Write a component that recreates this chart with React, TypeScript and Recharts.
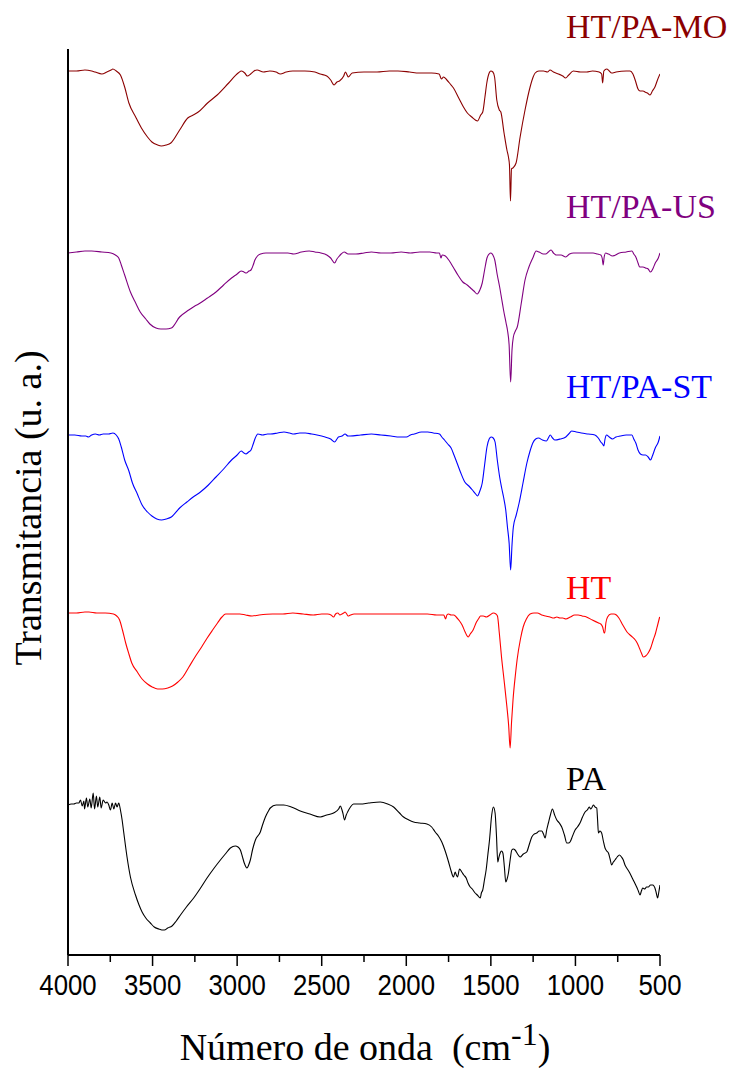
import React from "react";
import { Line, LineChart, XAxis, YAxis } from "recharts";

// FTIR spectra, stacked. [wavenumber cm-1, transmittance a.u. with offset]
type Point = [number, number];

const moSpectrum: Point[] = [
  [4000, 884], [3950, 884], [3900, 885], [3860, 884], [3840, 883], [3800, 881], [3770, 883], [3745, 885],
  [3735, 886], [3715, 884], [3690, 880], [3665, 868], [3640, 852], [3600, 838], [3566, 827], [3530, 818],
  [3504, 813], [3470, 810], [3449, 809], [3420, 810], [3392, 812], [3340, 825], [3292, 837], [3260, 840],
  [3230, 843], [3175, 852], [3118, 860], [3050, 872], [2994, 882], [2974, 884], [2955, 882], [2940, 879],
  [2920, 881], [2900, 884], [2882, 885], [2845, 883], [2807, 884], [2770, 883], [2745, 881], [2710, 883],
  [2671, 884], [2600, 884], [2540, 883], [2509, 881], [2470, 879], [2447, 875], [2427, 870], [2410, 873],
  [2395, 874], [2370, 879], [2360, 883], [2350, 880], [2343, 878], [2320, 882], [2250, 883], [2173, 883],
  [2100, 884], [2049, 884], [1980, 883], [1925, 882], [1850, 882], [1806, 881], [1792, 876], [1780, 878],
  [1760, 875], [1740, 871], [1721, 867], [1690, 857], [1662, 848], [1639, 842], [1613, 838], [1579, 834],
  [1560, 840], [1548, 843], [1535, 858], [1524, 872], [1510, 882], [1500, 884], [1488, 883], [1478, 878],
  [1465, 855], [1450, 845], [1441, 843], [1422, 822], [1405, 805], [1396, 798], [1390, 790], [1384, 754],
  [1378, 786], [1370, 787], [1351, 792], [1327, 818], [1298, 845], [1268, 868], [1250, 878], [1238, 882],
  [1216, 884], [1189, 884], [1165, 883], [1150, 885], [1130, 883], [1100, 881], [1075, 879], [1058, 877],
  [1040, 880], [1012, 884], [970, 883], [933, 883], [900, 884], [860, 883], [845, 881], [839, 872],
  [832, 884], [815, 886], [800, 884], [786, 882], [760, 883], [700, 884], [677, 884], [660, 881],
  [645, 874], [630, 866], [618, 864], [600, 864], [589, 863], [575, 862], [559, 860], [545, 864],
  [530, 868], [515, 875], [500, 881],
];

const usSpectrum: Point[] = [
  [4000, 702], [3950, 703], [3900, 704], [3860, 704], [3800, 703], [3746, 702], [3720, 700], [3700, 697],
  [3685, 690], [3665, 680], [3631, 663], [3600, 652], [3573, 643], [3540, 636], [3516, 631], [3480, 627],
  [3451, 626], [3420, 626], [3389, 627], [3340, 638], [3286, 645], [3250, 649], [3228, 651], [3175, 657],
  [3125, 663], [3080, 670], [3033, 677], [3000, 681], [2976, 684], [2960, 683], [2946, 682], [2930, 684],
  [2918, 685], [2905, 690], [2895, 695], [2880, 699], [2861, 701], [2830, 702], [2803, 702], [2750, 702],
  [2700, 702], [2665, 701], [2620, 703], [2574, 704], [2540, 703], [2505, 702], [2470, 700], [2447, 697],
  [2424, 692], [2410, 696], [2401, 698], [2385, 701], [2367, 703], [2344, 701], [2298, 701], [2250, 702],
  [2206, 703], [2150, 702], [2091, 702], [2030, 703], [1976, 702], [1920, 703], [1861, 703], [1820, 702],
  [1804, 702], [1795, 697], [1788, 700], [1769, 699], [1745, 694], [1723, 688], [1695, 680], [1666, 673],
  [1640, 670], [1620, 667], [1600, 664], [1581, 661], [1565, 665], [1551, 672], [1537, 685], [1523, 697],
  [1510, 701], [1500, 702], [1488, 700], [1477, 695], [1462, 680], [1448, 668], [1436, 656], [1425, 645],
  [1410, 632], [1402, 625], [1392, 610], [1383, 573], [1375, 605], [1367, 618], [1355, 624], [1344, 628],
  [1320, 652], [1298, 675], [1275, 688], [1252, 697], [1232, 704], [1215, 703], [1190, 701], [1176, 701],
  [1160, 703], [1144, 705], [1130, 702], [1114, 700], [1085, 700], [1057, 698], [1035, 701], [1011, 702],
  [950, 702], [896, 702], [870, 701], [850, 700], [842, 697], [836, 690], [830, 698], [822, 702],
  [805, 701], [781, 699], [740, 702], [700, 703], [666, 704], [655, 701], [643, 698], [630, 692],
  [620, 688], [600, 688], [586, 687], [570, 686], [556, 683], [540, 687], [528, 692], [510, 697],
  [500, 702],
];

const stSpectrum: Point[] = [
  [4000, 520], [3960, 520], [3918, 519], [3895, 519], [3879, 518], [3860, 520], [3838, 521], [3815, 520],
  [3792, 521], [3760, 521], [3734, 522], [3715, 520], [3700, 516], [3685, 508], [3665, 495], [3640, 484],
  [3619, 472], [3590, 461], [3562, 450], [3530, 443], [3504, 439], [3475, 436], [3447, 435], [3420, 436],
  [3389, 438], [3340, 447], [3297, 453], [3260, 458], [3217, 463], [3170, 470], [3125, 478], [3080, 486],
  [3033, 495], [3000, 500], [2976, 504], [2960, 502], [2948, 501], [2932, 503], [2918, 505], [2905, 511],
  [2895, 516], [2877, 521], [2850, 520], [2820, 521], [2803, 521], [2760, 522], [2723, 523], [2690, 522],
  [2665, 521], [2630, 522], [2597, 522], [2560, 521], [2528, 520], [2480, 518], [2447, 516], [2424, 513],
  [2410, 516], [2401, 518], [2380, 519], [2362, 521], [2345, 519], [2332, 519], [2270, 520], [2206, 521],
  [2150, 520], [2091, 519], [2040, 518], [1999, 518], [1975, 520], [1953, 521], [1910, 523], [1873, 523],
  [1840, 522], [1804, 521], [1790, 518], [1774, 515], [1755, 511], [1735, 507], [1718, 500], [1700, 492],
  [1680, 483], [1654, 473], [1630, 469], [1609, 465], [1590, 461], [1579, 459], [1565, 464], [1551, 472],
  [1537, 490], [1523, 508], [1510, 516], [1498, 518], [1486, 517], [1475, 513], [1462, 495], [1448, 478],
  [1436, 467], [1425, 458], [1412, 445], [1402, 428], [1392, 412], [1383, 385], [1375, 410], [1367, 428],
  [1350, 440], [1333, 452], [1310, 472], [1287, 492], [1270, 503], [1252, 512], [1235, 516], [1218, 517],
  [1195, 515], [1172, 514], [1160, 517], [1149, 520], [1135, 517], [1121, 515], [1090, 516], [1057, 518],
  [1040, 521], [1022, 524], [995, 523], [965, 522], [925, 521], [885, 520], [865, 517], [850, 513],
  [840, 511], [832, 509], [825, 516], [816, 520], [800, 518], [781, 516], [760, 518], [735, 519],
  [700, 520], [666, 520], [655, 516], [643, 512], [630, 505], [616, 501], [600, 500], [586, 500],
  [570, 498], [556, 495], [545, 499], [528, 507], [510, 513], [500, 519],
];

const htSpectrum: Point[] = [
  [4000, 342], [3950, 342], [3900, 343], [3876, 343], [3830, 342], [3780, 342], [3731, 341], [3712, 339],
  [3695, 335], [3678, 325], [3659, 312], [3640, 301], [3623, 292], [3590, 283], [3562, 276], [3530, 271],
  [3502, 268], [3470, 266], [3442, 266], [3410, 267], [3382, 269], [3350, 273], [3321, 278], [3285, 288],
  [3249, 298], [3210, 308], [3177, 317], [3145, 325], [3116, 332], [3090, 338], [3068, 341], [3030, 341],
  [2984, 341], [2950, 340], [2912, 339], [2870, 340], [2791, 341], [2730, 341], [2671, 342], [2610, 341],
  [2550, 340], [2500, 341], [2466, 341], [2445, 340], [2430, 338], [2418, 341], [2405, 342], [2392, 340],
  [2381, 341], [2370, 342], [2362, 343], [2352, 341], [2345, 339], [2330, 340], [2309, 341], [2200, 341],
  [2116, 341], [2000, 341], [1875, 341], [1820, 340], [1779, 340], [1767, 336], [1760, 340], [1750, 341],
  [1735, 340], [1719, 340], [1700, 337], [1685, 334], [1670, 330], [1652, 323], [1640, 319], [1634, 318],
  [1622, 321], [1605, 325], [1585, 333], [1570, 337], [1562, 339], [1545, 339], [1526, 338], [1505, 340],
  [1485, 342], [1470, 341], [1461, 339], [1450, 322], [1437, 298], [1420, 272], [1405, 248], [1395, 230],
  [1386, 207], [1378, 232], [1369, 255], [1355, 280], [1345, 295], [1325, 316], [1309, 328], [1290, 336],
  [1268, 341], [1245, 342], [1225, 342], [1200, 340], [1176, 339], [1150, 338], [1128, 337], [1110, 338],
  [1092, 337], [1075, 337], [1056, 336], [1030, 338], [1005, 340], [984, 340], [960, 339], [935, 338],
  [900, 335], [863, 332], [850, 331], [839, 328], [830, 322], [827, 322], [820, 332], [810, 338],
  [790, 341], [772, 341], [758, 340], [743, 337], [720, 330], [695, 323], [670, 319], [646, 315],
  [635, 312], [622, 307], [610, 302], [598, 298], [585, 299], [570, 302], [555, 307], [540, 315],
  [526, 322], [514, 330], [502, 338],
];

const paSpectrum: Point[] = [
  [4000, 150], [3980, 151], [3966, 151], [3950, 152], [3936, 152], [3926, 155], [3916, 149], [3906, 154],
  [3902, 146], [3891, 157], [3883, 148], [3871, 156], [3863, 147], [3851, 162], [3843, 146], [3832, 159],
  [3824, 148], [3812, 158], [3804, 147], [3792, 155], [3778, 152], [3769, 153], [3759, 150], [3749, 145],
  [3739, 152], [3729, 146], [3719, 152], [3710, 148], [3700, 152], [3690, 145], [3680, 135], [3670, 122],
  [3651, 98], [3631, 78], [3601, 60], [3580, 50], [3562, 43], [3540, 37], [3513, 32], [3490, 28],
  [3463, 26], [3445, 25], [3430, 25], [3410, 27], [3385, 29], [3360, 34], [3335, 40], [3300, 48],
  [3257, 57], [3220, 66], [3178, 77], [3140, 86], [3099, 95], [3070, 101], [3040, 107], [3011, 109],
  [2995, 108], [2981, 105], [2970, 99], [2958, 92], [2942, 87], [2932, 90], [2922, 95], [2908, 106],
  [2892, 115], [2863, 123], [2850, 130], [2833, 138], [2815, 144], [2804, 147], [2770, 150], [2725, 150],
  [2680, 148], [2627, 144], [2570, 141], [2509, 138], [2470, 140], [2430, 142], [2400, 146], [2390, 149],
  [2380, 145], [2375, 142], [2365, 135], [2355, 140], [2347, 143], [2330, 148], [2312, 151], [2270, 151],
  [2223, 152], [2154, 153], [2110, 151], [2075, 148], [2040, 142], [2016, 138], [1985, 135], [1957, 133],
  [1920, 132], [1878, 131], [1850, 128], [1829, 123], [1810, 119], [1790, 113], [1770, 104], [1750, 93],
  [1735, 84], [1721, 78], [1711, 83], [1704, 80], [1697, 78], [1685, 86], [1672, 83], [1660, 80],
  [1646, 77], [1635, 72], [1622, 68], [1610, 66], [1593, 62], [1580, 60], [1563, 57], [1556, 62],
  [1548, 65], [1538, 75], [1528, 85], [1518, 100], [1508, 115], [1495, 140], [1485, 148], [1475, 142],
  [1467, 120], [1459, 93], [1452, 98], [1445, 102], [1437, 104], [1429, 102], [1420, 88], [1412, 73],
  [1404, 76], [1396, 82], [1386, 95], [1376, 105], [1367, 106], [1357, 105], [1342, 101], [1327, 98],
  [1308, 101], [1288, 103], [1272, 111], [1258, 118], [1243, 121], [1229, 122], [1214, 124], [1199, 124],
  [1189, 121], [1179, 117], [1170, 125], [1160, 132], [1148, 140], [1136, 146], [1123, 140], [1110, 135],
  [1095, 132], [1081, 128], [1065, 120], [1051, 112], [1040, 112], [1032, 113], [1017, 119], [1002, 125],
  [988, 128], [973, 132], [958, 138], [943, 143], [930, 145], [918, 148], [910, 146], [904, 147],
  [894, 150], [884, 148], [874, 147], [869, 135], [864, 122], [855, 124], [845, 122], [835, 114],
  [825, 107], [815, 104], [805, 102], [795, 96], [786, 90], [776, 93], [766, 95], [753, 98],
  [740, 100], [728, 98], [717, 95], [707, 90], [697, 87], [682, 83], [667, 78], [652, 73],
  [638, 68], [628, 64], [618, 60], [610, 64], [602, 67], [590, 66], [580, 68], [569, 68],
  [556, 70], [543, 70], [536, 69], [530, 67], [522, 62], [514, 57], [507, 63], [500, 70],
];

const waveTicks = [4000, 3750, 3500, 3250, 3000, 2750, 2500, 2250, 2000, 1750, 1500, 1250, 1000, 750, 500];

const toRows = (pts: Point[]) => pts.map(([wn, t]) => ({ wn, t }));

const serif = "'Liberation Serif', 'Times New Roman', serif";
const sans = "'Liberation Sans', Arial, sans-serif";

function WaveTick(props: any) {
  const { x, y, payload } = props;
  const major = payload.value % 500 === 0;
  return (
    <g>
      <line x1={x} x2={x} y1={y} y2={y + (major ? 11 : 7)} stroke="#000" strokeWidth={1.5} />
      {major && (
        <text
          transform={`translate(${x} ${y + 40}) scale(0.86 1)`}
          textAnchor="middle"
          fontFamily={sans}
          fontSize={30}
          fill="#000"
        >
          {payload.value}
        </text>
      )}
    </g>
  );
}

export default function App() {
  return (
    <div style={{ position: "absolute", left: 0, top: 0, width: 736, height: 1068, background: "#fff" }}>
      <LineChart width={736} height={1068} margin={{ top: 49, right: 76, bottom: 83, left: 67 }}>
        <XAxis
          type="number"
          dataKey="wn"
          domain={[500, 4000]}
          reversed
          allowDataOverflow
          ticks={waveTicks}
          interval={0}
          tickSize={0}
          tickMargin={0}
          tickLine={false}
          tick={(p: any) => <WaveTick {...p} />}
          axisLine={{ stroke: "#000", strokeWidth: 2 }}
          height={30}
        />
        <YAxis
          type="number"
          domain={[0, 906]}
          width={1}
          tick={false}
          tickLine={false}
          axisLine={{ stroke: "#000", strokeWidth: 2 }}
        />
        <Line data={toRows(moSpectrum)} dataKey="t" type="monotoneX" stroke="#8B0000" strokeWidth={1.1} dot={false} isAnimationActive={false} />
        <Line data={toRows(usSpectrum)} dataKey="t" type="monotoneX" stroke="#800080" strokeWidth={1.1} dot={false} isAnimationActive={false} />
        <Line data={toRows(stSpectrum)} dataKey="t" type="monotoneX" stroke="#0000FF" strokeWidth={1.1} dot={false} isAnimationActive={false} />
        <Line data={toRows(htSpectrum)} dataKey="t" type="monotoneX" stroke="#FF0000" strokeWidth={1.1} dot={false} isAnimationActive={false} />
        <Line data={toRows(paSpectrum)} dataKey="t" type="monotoneX" stroke="#000000" strokeWidth={1.1} dot={false} isAnimationActive={false} />
      </LineChart>
      <svg
        width={736}
        height={1068}
        style={{ position: "absolute", left: 0, top: 0, pointerEvents: "none" }}
      >
        <g fontFamily={serif} fontSize={34}>
          <text x={566} y={38} fill="#8B0000">HT/PA-MO</text>
          <text x={566} y={218} fill="#800080">HT/PA-US</text>
          <text x={566} y={398} fill="#0000FF">HT/PA-ST</text>
          <text x={566} y={599} fill="#FF0000">HT</text>
          <text x={566} y={790} fill="#000">PA</text>
        </g>
        <text
          x={41}
          y={508}
          transform="rotate(-90 41 508)"
          textAnchor="middle"
          fontFamily={serif}
          fontSize={38}
          fill="#000"
        >
          Transmitancia (u. a.)
        </text>
        <text x={365} y={1060} textAnchor="middle" fontFamily={serif} fontSize={38} fill="#000">
          Número de onda{"\u00a0\u00a0"}(cm<tspan dy={-15} fontSize={32}>-1</tspan>
          <tspan dy={15}>)</tspan>
        </text>
      </svg>
    </div>
  );
}
